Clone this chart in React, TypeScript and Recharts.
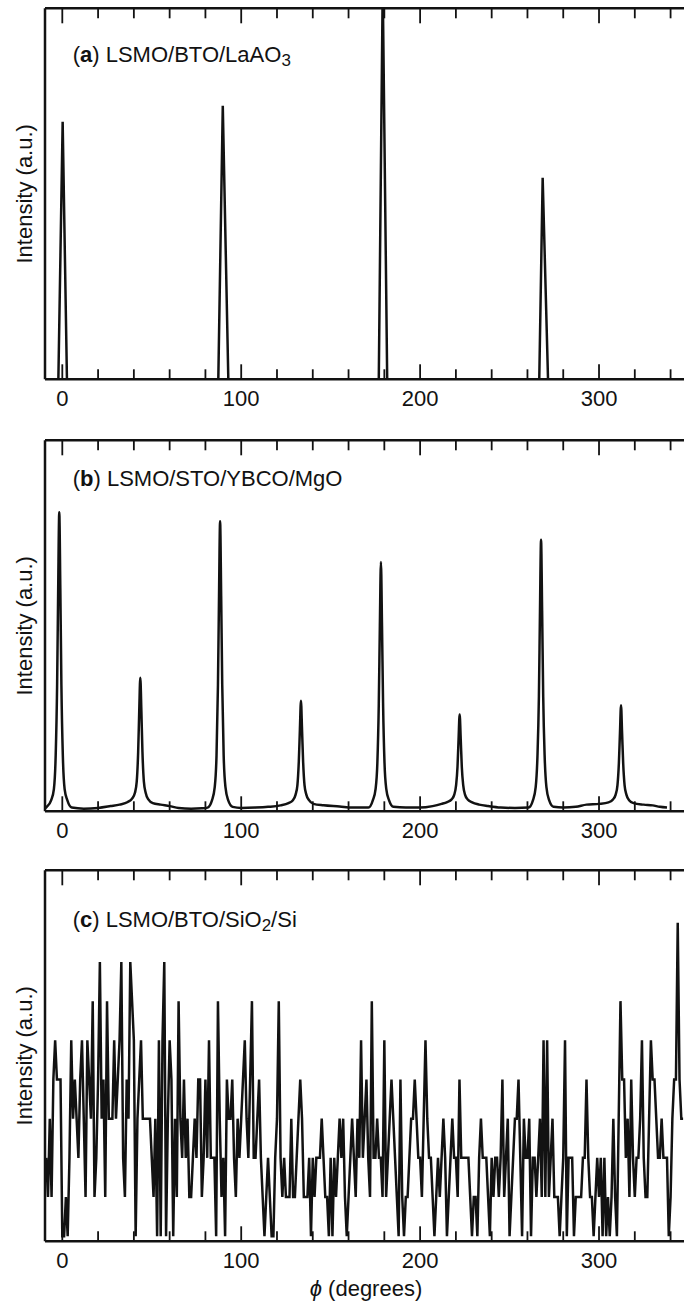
import { LineChart, Line, XAxis, YAxis } from "recharts";

const INK = "#121212";
const FONT = "'Liberation Sans', Arial, Helvetica, sans-serif";
const FONT_SIZE = 22;

// shared phi axis (degrees)
const phiDomain: [number, number] = [-9.67, 347.5];
const phiTicks = [0, 20, 40, 60, 80, 100, 120, 140, 160, 180, 200, 220, 240, 260, 280, 300, 320, 340];

// (a) LSMO/BTO/LaAO3 - four sharp peaks
const phiA = [-9.67, -2.2, 0.2, 2.6, 87.2, 89.7, 92.8, 176.9, 179.1, 181.6, 266.6, 268.5, 271.5, 347.5];
const intensityA = [0, 0, 0.694, 0, 0, 0.737, 0, 0, 1.06, 0, 0, 0.543, 0, 0];

// (b) LSMO/STO/YBCO/MgO - eight peaks on a weak background
const phiB = [
  -9.6, -8.7, -6.2, -4.7, -3.7, -2.9, -2.3, -1.7, -1.1, -0.5, 0.3, 1.3, 2.8, 5.3,
  12, 20, 27, 32,
  36.6, 39.1, 40.6, 41.6, 42.4, 43.0, 43.6, 44.2, 44.8, 45.6, 46.6, 48.1, 50.6,
  55, 60, 65, 72, 78,
  81.2, 83.7, 85.2, 86.2, 87.0, 87.6, 88.2, 88.8, 89.4, 90.2, 91.2, 92.7, 95.2,
  100, 108, 115, 122,
  126.4, 128.9, 130.4, 131.4, 132.2, 132.8, 133.4, 134.0, 134.6, 135.4, 136.4, 137.9, 140.4,
  146, 155, 162, 168,
  171.1, 173.6, 175.1, 176.1, 176.9, 177.5, 178.1, 178.7, 179.3, 180.1, 181.1, 182.6, 185.1,
  192, 200, 207, 212,
  215.1, 217.6, 219.1, 220.1, 220.9, 221.5, 222.1, 222.7, 223.3, 224.1, 225.1, 226.6, 229.1,
  233, 238, 245, 253,
  260.6, 263.1, 264.6, 265.6, 266.4, 267.0, 267.6, 268.2, 268.8, 269.6, 270.6, 272.1, 274.6,
  280, 287, 293, 300,
  305.3, 307.8, 309.3, 310.3, 311.1, 311.7, 312.3, 312.9, 313.5, 314.3, 315.3, 316.8, 319.3,
  325, 330, 334, 338,
];
const intensityB = [
  0.008, 0.012, 0.03, 0.06, 0.15, 0.34, 0.6, 0.806, 0.6, 0.34, 0.15, 0.06, 0.03, 0.01,
  0.007, 0.009, 0.014, 0.018,
  0.025, 0.035, 0.05, 0.08, 0.16, 0.27, 0.36, 0.27, 0.16, 0.08, 0.05, 0.032, 0.022,
  0.018, 0.014, 0.009, 0.007, 0.008,
  0.01, 0.03, 0.065, 0.15, 0.34, 0.58, 0.782, 0.58, 0.34, 0.15, 0.065, 0.03, 0.012,
  0.009, 0.01, 0.012, 0.016,
  0.022, 0.03, 0.045, 0.07, 0.135, 0.22, 0.298, 0.22, 0.135, 0.07, 0.045, 0.03, 0.02,
  0.016, 0.013, 0.01, 0.01,
  0.01, 0.03, 0.06, 0.13, 0.29, 0.5, 0.672, 0.5, 0.29, 0.13, 0.06, 0.03, 0.012,
  0.01, 0.01, 0.014, 0.02,
  0.025, 0.032, 0.045, 0.07, 0.12, 0.195, 0.261, 0.195, 0.12, 0.07, 0.045, 0.032, 0.024,
  0.018, 0.014, 0.01, 0.009,
  0.01, 0.03, 0.065, 0.15, 0.31, 0.54, 0.732, 0.54, 0.31, 0.15, 0.065, 0.03, 0.012,
  0.01, 0.012, 0.018, 0.02,
  0.024, 0.032, 0.045, 0.07, 0.13, 0.21, 0.286, 0.21, 0.13, 0.07, 0.045, 0.03, 0.022,
  0.018, 0.016, 0.012, 0.01,
];

// (c) LSMO/BTO/SiO2/Si - counts read every degree from -9 deg
const firstPhiC = -9;
const countsC = [
  2, 1, 3, 1, 4, 5, 4, 4, 4,
  0, 0, 1, 0, 2, 5, 3, 4, 3, 2,
  4, 5, 3, 1, 5, 4, 3, 6, 1, 2,
  4, 7, 3, 4, 1, 6, 3, 3, 3, 5,
  3, 4, 5, 7, 2, 1, 4, 3, 7, 6,
  5, 0, 3, 4, 5, 3, 3, 3, 3, 3,
  2, 1, 3, 0, 5, 0, 5, 7, 0, 3,
  5, 4, 0, 3, 1, 6, 3, 2, 4, 2,
  3, 1, 1, 2, 3, 2, 4, 4, 1, 2,
  4, 2, 5, 2, 2, 2, 0, 6, 3, 1,
  2, 0, 4, 3, 3, 4, 2, 1, 3, 2,
  3, 4, 5, 3, 2, 4, 6, 2, 2, 3,
  4, 2, 1, 0, 1, 2, 1, 0, 0, 2,
  3, 6, 2, 1, 2, 1, 1, 1, 3, 1,
  1, 2, 3, 4, 3, 1, 1, 1, 2, 0,
  2, 1, 2, 2, 2, 3, 2, 1, 1, 0,
  2, 0, 2, 1, 2, 3, 2, 3, 1, 0,
  1, 2, 3, 2, 1, 3, 2, 5, 2, 3,
  4, 2, 1, 6, 2, 2, 3, 2, 2, 1,
  5, 1, 2, 3, 4, 3, 2, 1, 0, 4,
  1, 0, 1, 1, 2, 3, 3, 4, 3, 2,
  2, 1, 3, 5, 3, 2, 2, 1, 0, 1,
  2, 1, 2, 3, 2, 0, 1, 2, 3, 2,
  2, 1, 4, 2, 2, 2, 2, 2, 1, 0,
  1, 1, 0, 2, 3, 2, 2, 2, 1, 0,
  2, 1, 2, 2, 1, 2, 4, 1, 2, 3,
  0, 1, 2, 3, 3, 4, 2, 0, 3, 2,
  2, 3, 0, 2, 2, 1, 2, 3, 1, 5,
  1, 5, 1, 2, 3, 1, 1, 1, 0, 1,
  2, 5, 0, 2, 2, 2, 0, 1, 1, 1,
  1, 2, 2, 4, 2, 1, 1, 0, 1, 2,
  1, 2, 0, 2, 0, 1, 0, 1, 3, 1,
  0, 3, 6, 4, 4, 2, 3, 1, 4, 2,
  1, 2, 2, 3, 5, 2, 1, 1, 3, 5,
  4, 4, 3, 2, 2, 3, 2, 2, 2, 0,
  1, 3, 4, 4, 8, 4, 3, 3,
];

const PLOT_TOP = 8.3;
const PLOT_H = 371;
const PLOT_BOTTOM = PLOT_TOP + PLOT_H;

const textStyle = { fontFamily: FONT, fontSize: FONT_SIZE, fill: INK };

const BottomTick = (props: any) => {
  const { x, y, payload } = props;
  const major = payload.value % 100 === 0;
  return (
    <g>
      <line x1={x} x2={x} y1={y} y2={y - (major ? 15 : 10)} stroke={INK} strokeWidth={1.8} />
      {major && (
        <text x={x} y={y + 27} textAnchor="middle" style={textStyle}>
          {payload.value}
        </text>
      )}
    </g>
  );
};

const TopTick = (props: any) => {
  const { x, y, payload } = props;
  const major = payload.value % 100 === 0;
  return <line x1={x} x2={x} y1={y} y2={y + (major ? 15 : 10)} stroke={INK} strokeWidth={1.8} />;
};

const IntensityLabel = () => (
  <text
    x={32}
    y={PLOT_TOP + PLOT_H / 2}
    transform={`rotate(-90 32 ${PLOT_TOP + PLOT_H / 2})`}
    textAnchor="middle"
    style={textStyle}
  >
    Intensity (a.u.)
  </text>
);

const PhiLabel = () => (
  <text x={366} y={PLOT_BOTTOM + 54.3} textAnchor="middle" style={textStyle}>
    <tspan fontStyle="italic">ϕ</tspan> (degrees)
  </text>
);

const titleA = (
  <text x={72.7} y={PLOT_TOP + 53.4} style={textStyle}>
    (<tspan fontWeight="bold">a</tspan>) LSMO/BTO/LaAO
    <tspan dy={4} fontSize={17}>3</tspan>
  </text>
);

const titleB = (
  <text x={72.7} y={PLOT_TOP + 46} style={textStyle}>
    (<tspan fontWeight="bold">b</tspan>) LSMO/STO/YBCO/MgO
  </text>
);

const titleC = (
  <text x={72.7} y={PLOT_TOP + 56.6} style={textStyle}>
    (<tspan fontWeight="bold">c</tspan>) LSMO/BTO/SiO
    <tspan dy={4} fontSize={17}>2</tspan>
    <tspan dy={-4}>/Si</tspan>
  </text>
);

interface PanelProps {
  top: number;
  height: number;
  data: { phi: number; value: number }[];
  yDomain: [number, number];
  curve: "linear" | "monotone";
  title: React.ReactElement;
  showPhiLabel?: boolean;
}

function Panel({ top, height, data, yDomain, curve, title, showPhiLabel }: PanelProps) {
  const axisLine = { stroke: INK, strokeWidth: 2.5 };
  return (
    <div style={{ position: "absolute", left: 0, top, width: 684, height }}>
      <LineChart
        width={684}
        height={height}
        data={data}
        margin={{ top: PLOT_TOP - 1, right: 0, bottom: height - PLOT_BOTTOM - 30, left: 0 }}
      >
        <XAxis
          xAxisId="bottom"
          dataKey="phi"
          type="number"
          domain={phiDomain}
          allowDataOverflow
          ticks={phiTicks}
          interval={0}
          tickSize={0}
          tickMargin={0}
          tickLine={false}
          tick={(p: any) => <BottomTick {...p} />}
          axisLine={axisLine}
          height={30}
          label={showPhiLabel ? () => <PhiLabel /> : undefined}
        />
        <XAxis
          xAxisId="top"
          orientation="top"
          dataKey="phi"
          type="number"
          domain={phiDomain}
          allowDataOverflow
          ticks={phiTicks}
          interval={0}
          tickSize={0}
          tickMargin={0}
          tickLine={false}
          tick={(p: any) => <TopTick {...p} />}
          axisLine={axisLine}
          height={1}
          label={() => title}
        />
        <YAxis
          yAxisId="y"
          type="number"
          domain={yDomain}
          allowDataOverflow
          width={45}
          tick={false}
          tickLine={false}
          axisLine={axisLine}
          label={() => <IntensityLabel />}
        />
        <Line
          xAxisId="bottom"
          yAxisId="y"
          dataKey="value"
          type={curve}
          stroke={INK}
          strokeWidth={2.5}
          dot={false}
          activeDot={false}
          isAnimationActive={false}
        />
      </LineChart>
    </div>
  );
}

export default function App() {
  const dataA = phiA.map((phi, i) => ({ phi, value: intensityA[i] }));
  const dataB = phiB.map((phi, i) => ({ phi, value: intensityB[i] }));
  const dataC = countsC.map((value, i) => ({ phi: firstPhiC + i, value }));

  return (
    <div
      style={{
        position: "absolute",
        left: 0,
        top: 0,
        width: 684,
        height: 1304,
        overflow: "hidden",
        background: "#ffffff",
      }}
    >
      <Panel top={0} height={430} data={dataA} yDomain={[0, 1]} curve="linear" title={titleA} />
      <Panel top={432.4} height={430} data={dataB} yDomain={[0, 1]} curve="monotone" title={titleB} />
      <Panel
        top={862.4}
        height={441.6}
        data={dataC}
        yDomain={[-0.13, 9.34]}
        curve="linear"
        title={titleC}
        showPhiLabel
      />
    </div>
  );
}
